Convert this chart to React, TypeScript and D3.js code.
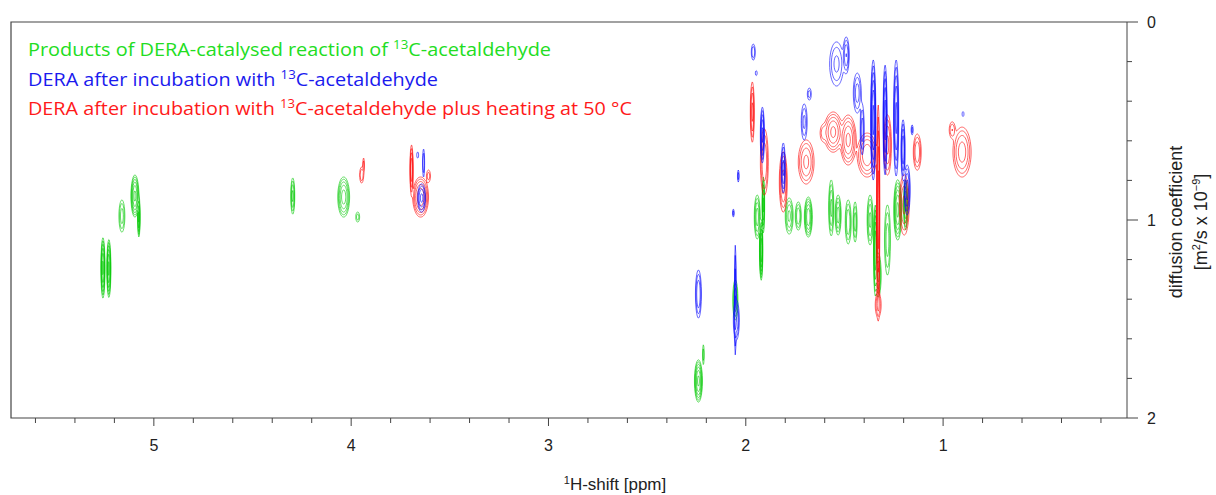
import React, { useMemo } from "react";
import * as d3 from "d3";

// axis domains (ppm reversed, diffusion coefficient downward)
const X_DOMAIN: [number, number] = [5.724, 0.068];
const Y_DOMAIN: [number, number] = [0, 2];
const X_MAJOR = [5, 4, 3, 2, 1];
const X_MINOR = d3.range(1, 29).map((i) => +(i * 0.2).toFixed(1));
const Y_MAJOR = [0, 1, 2];
const Y_MINOR = d3.range(1, 10).map((i) => +(i * 0.2).toFixed(1));
const LEVELS = [1, 2, 4, 8, 16, 32];

// peaks: [ppm, D (1e-9 m2/s), half-width ppm, half-height D, intensity]
const greenPeaks: number[][] = [
  [5.258, 1.242, 0.010, 0.152, 40],
  [5.228, 1.245, 0.010, 0.146, 40],
  [5.162, 0.980, 0.015, 0.081, 6],
  [5.096, 0.879, 0.020, 0.106, 40],
  [5.076, 0.985, 0.006, 0.101, 20],
  [4.296, 0.879, 0.010, 0.091, 10],
  [4.038, 0.884, 0.030, 0.101, 24],
  [3.967, 0.985, 0.010, 0.025, 3],
  [1.942, 0.985, 0.015, 0.111, 12],
  [1.922, 1.152, 0.008, 0.152, 60],
  [1.911, 0.924, 0.006, 0.141, 20],
  [1.780, 0.980, 0.020, 0.091, 10],
  [1.734, 0.980, 0.015, 0.071, 8],
  [1.683, 0.985, 0.020, 0.101, 30],
  [1.567, 0.939, 0.013, 0.141, 10],
  [1.532, 0.975, 0.015, 0.101, 12],
  [1.481, 1.010, 0.015, 0.111, 8],
  [1.446, 1.010, 0.010, 0.101, 6],
  [1.370, 1.000, 0.015, 0.126, 10],
  [1.329, 1.278, 0.015, 0.111, 10],
  [1.344, 1.152, 0.008, 0.227, 30],
  [1.282, 1.101, 0.015, 0.177, 6],
  [1.230, 0.949, 0.020, 0.152, 40],
  [1.190, 0.924, 0.010, 0.126, 20],
  [2.240, 1.813, 0.020, 0.106, 40],
  [2.053, 1.404, 0.013, 0.101, 8],
  [2.215, 1.680, 0.004, 0.050, 3],
];

const bluePeaks: number[][] = [
  [1.962, 0.152, 0.010, 0.040, 4],
  [1.947, 0.258, 0.005, 0.012, 2],
  [1.916, 0.571, 0.010, 0.141, 20],
  [1.810, 0.737, 0.010, 0.126, 10],
  [1.678, 0.364, 0.010, 0.030, 3],
  [1.704, 0.505, 0.015, 0.091, 5],
  [1.540, 0.212, 0.035, 0.111, 5],
  [1.491, 0.167, 0.015, 0.091, 8],
  [1.435, 0.359, 0.020, 0.101, 6],
  [1.410, 0.545, 0.010, 0.126, 6],
  [1.354, 0.495, 0.013, 0.303, 40],
  [1.294, 0.495, 0.010, 0.278, 25],
  [1.238, 0.485, 0.013, 0.293, 20],
  [1.203, 0.646, 0.010, 0.152, 15],
  [1.182, 0.848, 0.015, 0.126, 12],
  [1.157, 0.545, 0.005, 0.025, 3],
  [0.899, 0.465, 0.005, 0.012, 2],
  [2.240, 1.374, 0.015, 0.121, 8],
  [2.048, 1.505, 0.015, 0.101, 8],
  [2.053, 1.404, 0.004, 0.278, 8],
  [3.643, 0.889, 0.020, 0.071, 10],
  [3.633, 0.712, 0.005, 0.071, 4],
  [3.663, 0.672, 0.005, 0.015, 2],
  [2.038, 0.778, 0.004, 0.030, 3],
  [2.063, 0.965, 0.004, 0.020, 3],
];

const redPeaks: number[][] = [
  [3.947, 0.773, 0.010, 0.040, 4],
  [3.937, 0.722, 0.004, 0.035, 3],
  [3.694, 0.747, 0.008, 0.126, 15],
  [3.648, 0.884, 0.040, 0.101, 30],
  [3.608, 0.778, 0.010, 0.030, 3],
  [1.967, 0.455, 0.010, 0.152, 10],
  [1.906, 0.707, 0.020, 0.167, 8],
  [1.810, 0.808, 0.020, 0.152, 12],
  [1.694, 0.707, 0.040, 0.111, 10],
  [1.608, 0.561, 0.015, 0.040, 3],
  [1.557, 0.556, 0.046, 0.101, 20],
  [1.481, 0.596, 0.040, 0.126, 20],
  [1.385, 0.672, 0.050, 0.111, 15],
  [1.329, 0.949, 0.008, 0.530, 25],
  [1.329, 1.429, 0.015, 0.061, 4],
  [1.282, 0.621, 0.020, 0.152, 10],
  [1.131, 0.657, 0.020, 0.091, 8],
  [1.197, 0.924, 0.025, 0.152, 10],
  [0.904, 0.657, 0.046, 0.126, 12],
  [0.954, 0.545, 0.015, 0.040, 4],
];

const SERIES = [
  { name: "green", color: "#00c800", peaks: greenPeaks },
  { name: "red", color: "#ff0000", peaks: redPeaks },
  { name: "blue", color: "#0000ff", peaks: bluePeaks },
];

const LEGEND = [
  { pre: "Products of DERA-catalysed reaction of ", post: "C-acetaldehyde", color: "#22dd22", len: 523 },
  { pre: "DERA after incubation with ", post: "C-acetaldehyde", color: "#1a1aee", len: 410 },
  { pre: "DERA after incubation with ", post: "C-acetaldehyde plus heating at 50 °C", color: "#ff1a1a", len: 604 },
];

const M = { left: 11, right: 1127, top: 22, bottom: 418 };
const AXIS_COLOR = "#444";
const FONT = "'Liberation Sans', Arial, sans-serif";

export default function App() {
  const x = d3.scaleLinear().domain(X_DOMAIN).range([M.left, M.right]);
  const y = d3.scaleLinear().domain(Y_DOMAIN).range([M.top, M.bottom]);

  const layers = useMemo(() => {
    const cw = 0.5, ch = 2;
    const nx = Math.round((M.right - M.left) / cw);
    const ny = Math.round((M.bottom - M.top) / ch);
    return SERIES.map((s) => {
      const v = new Float64Array(nx * ny);
      for (const [p, d, hw, hh, a] of s.peaks) {
        const k = Math.sqrt(2 * Math.log(a));
        const cx = x(p), cy = y(d);
        const sx = Math.max(0.35, Math.abs(x(p + hw) - cx) / k);
        const sy = Math.abs(y(d + hh) - cy) / k;
        const i0 = Math.max(0, Math.floor((cx - 4 * sx - M.left) / cw));
        const i1 = Math.min(nx - 1, Math.ceil((cx + 4 * sx - M.left) / cw));
        const j0 = Math.max(0, Math.floor((cy - 4 * sy - M.top) / ch));
        const j1 = Math.min(ny - 1, Math.ceil((cy + 4 * sy - M.top) / ch));
        for (let j = j0; j <= j1; j++) {
          const py = M.top + (j + 0.5) * ch;
          const ey = ((py - cy) / sy) ** 2;
          for (let i = i0; i <= i1; i++) {
            const px = M.left + (i + 0.5) * cw;
            v[j * nx + i] += a * Math.exp(-0.5 * (((px - cx) / sx) ** 2 + ey));
          }
        }
      }
      const cs = d3.contours().size([nx, ny]).thresholds(LEVELS)(Array.from(v));
      const proj = d3.geoTransform({
        point(px: number, py: number) {
          (this as any).stream.point(M.left + px * cw, M.top + py * ch);
        },
      });
      const path = d3.geoPath(proj as any);
      return { name: s.name, color: s.color, d: cs.map((c) => path(c as any) || "").join("") };
    });
  }, []);

  return (
    <svg width={1216} height={495} style={{ display: "block", position: "absolute", left: 0, top: 0 }}>
      <rect width={1216} height={495} fill="#fff" />
      <defs>
        <clipPath id="plot">
          <rect x={M.left} y={M.top} width={M.right - M.left} height={M.bottom - M.top} />
        </clipPath>
      </defs>
      <g clipPath="url(#plot)">
        {layers.map((l) => (
          <path key={l.name} d={l.d} fill="none" stroke={l.color} strokeWidth={0.6} />
        ))}
      </g>
      {/* frame */}
      <path
        d={`M${M.right},${M.top}H${M.left}V${M.bottom}H${M.right}`}
        fill="none"
        stroke={AXIS_COLOR}
        strokeWidth={1.2}
      />
      <line x1={M.right} x2={M.right} y1={M.top} y2={M.bottom} stroke={AXIS_COLOR} strokeWidth={1} />
      {/* x ticks */}
      {X_MINOR.filter((t) => !X_MAJOR.includes(t)).map((t) => (
        <line key={"xm" + t} x1={x(t)} x2={x(t)} y1={M.bottom} y2={M.bottom + 5} stroke={AXIS_COLOR} strokeWidth={1} />
      ))}
      {X_MAJOR.map((t) => (
        <g key={"xM" + t}>
          <line x1={x(t)} x2={x(t)} y1={M.bottom} y2={M.bottom + 8} stroke={AXIS_COLOR} strokeWidth={1} />
          <text x={x(t)} y={451} textAnchor="middle" fontFamily={FONT} fontSize={16} fill="#222">
            {t}
          </text>
        </g>
      ))}
      <text x={615} y={490} textAnchor="middle" fontFamily={FONT} fontSize={17} fill="#222">
        <tspan fontSize={11} dy={-6}>1</tspan>
        <tspan dy={6}>H-shift [ppm]</tspan>
      </text>
      {/* y ticks */}
      {Y_MINOR.filter((t) => !Y_MAJOR.includes(t)).map((t) => (
        <line key={"ym" + t} x1={M.right} x2={M.right + 5} y1={y(t)} y2={y(t)} stroke={AXIS_COLOR} strokeWidth={1} />
      ))}
      {Y_MAJOR.map((t) => (
        <g key={"yM" + t}>
          <line x1={M.right} x2={M.right + 11} y1={y(t)} y2={y(t)} stroke={AXIS_COLOR} strokeWidth={1} />
          <text x={1147} y={y(t) + 6} fontFamily={FONT} fontSize={16} fill="#222">
            {t}
          </text>
        </g>
      ))}
      <g transform="translate(1182,222) rotate(-90)">
        <text x={0} y={0} textAnchor="middle" fontFamily={FONT} fontSize={18} fill="#222">
          diffusion coefficient
        </text>
        <text x={0} y={25} textAnchor="middle" fontFamily={FONT} fontSize={18} fill="#222">
          <tspan>[m</tspan>
          <tspan fontSize={11} dy={-7}>2</tspan>
          <tspan dy={7}>/s x 10</tspan>
          <tspan fontSize={11} dy={-7}>−9</tspan>
          <tspan dy={7}>]</tspan>
        </text>
      </g>
      {/* legend */}
      {LEGEND.map((l, i) => (
        <text
          key={i}
          x={28}
          y={56 + i * 29.5}
          fontFamily="'Open Sans', 'Noto Sans', sans-serif"
          fontSize={18}
          fill={l.color}
          textLength={l.len}
          lengthAdjust="spacingAndGlyphs"
        >
          <tspan>{l.pre}</tspan>
          <tspan fontSize={12} dy={-7}>13</tspan>
          <tspan dy={7}>{l.post}</tspan>
        </text>
      ))}
    </svg>
  );
}
